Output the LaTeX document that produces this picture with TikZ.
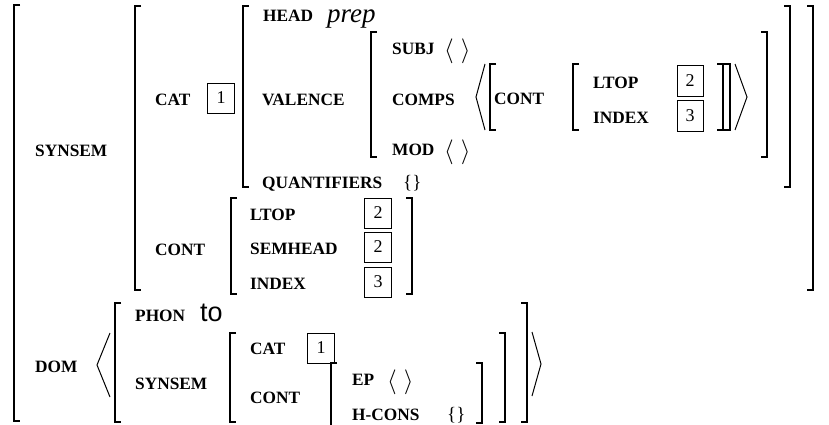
\documentclass[tikz,border=0pt]{standalone}
\usepackage{fontspec}
\setmainfont{Liberation Serif}
\newfontfamily\phonfont{Liberation Sans}

\newcommand{\avmL}[3]{\draw[brak] (#1+6,#2) -- (#1,#2) -- (#1,#3) -- (#1+6,#3);}
\newcommand{\avmR}[3]{\draw[brak] (#1-6,#2) -- (#1,#2) -- (#1,#3) -- (#1-6,#3);}
\newcommand{\avmLang}[4]{\draw[angl] (#2,#3) -- (#1,{(#3+#4)/2}) -- (#2,#4);}
\newcommand{\emptylist}{{\fontsize{24.88}{25}\selectfont$\langle\hspace{7pt}\rangle$}}

\tikzset{
  feat/.style={anchor=base west, inner sep=0pt, font=\fontsize{17.3}{18}\selectfont\bfseries},
  val/.style={anchor=base west, inner sep=0pt, font=\fontsize{19}{19}\selectfont},
  tag/.style={draw, line width=0.6pt, minimum width=27pt, minimum height=30pt, inner sep=0pt, font=\fontsize{18}{18}\selectfont},
  brak/.style={line width=1.4pt},
  angl/.style={line width=1pt}
}

\begin{document}
\begin{tikzpicture}[x=1pt, y=-1pt]
\useasboundingbox (0,0) rectangle (829,425);

\node[feat] (synsem) at (35,156) {SYNSEM};
\node[feat] (cat) at (155,106) {CAT};
\node[tag] (tagA) at (221,98) {1};
\node[feat] (head) at (263,22) {HEAD};
\node[val, font=\fontsize{27}{27}\selectfont\itshape] (prep) at (327,23) {prep};
\node[feat] (valence) at (262,106) {VALENCE};
\node[feat] (subj) at (392,55) {SUBJ};
\node[val] (subjval) at (444,58) {\emptylist};
\node[feat] (comps) at (392,106) {COMPS};
\node[feat] (compcont) at (494,105) {CONT};
\node[feat] (compltop) at (593,89) {LTOP};
\node[tag, minimum width=26pt, minimum height=31pt] (tagB) at (690,81) {2};
\node[feat] (compindex) at (593,124) {INDEX};
\node[tag, minimum width=26pt, minimum height=31pt] (tagC) at (690,116) {3};
\node[feat] (mod) at (392,155) {MOD};
\node[val] (modval) at (444,158) {\emptylist};
\node[feat] (quant) at (262,188) {QUANTIFIERS};
\node[val] (quantval) at (403,188) {\{\}};

\node[feat] (cont) at (155,255) {CONT};
\node[feat] (ltop) at (250,220) {LTOP};
\node[tag] (tagD) at (378,213) {2};
\node[feat] (semhead) at (250,254) {SEMHEAD};
\node[tag] (tagE) at (378,247) {2};
\node[feat] (index) at (250,289) {INDEX};
\node[tag] (tagF) at (378,282) {3};

\node[feat] (dom) at (35,372) {DOM};
\node[feat] (phon) at (135,321) {PHON};
\node[val, font=\fontsize{27}{27}\selectfont\phonfont] (to) at (200,321) {to};
\node[feat] (domsynsem) at (135,389) {SYNSEM};
\node[feat] (domcat) at (250,354) {CAT};
\node[tag] (tagG) at (321,348) {1};
\node[feat] (domcont) at (250,403) {CONT};
\node[feat] (ep) at (352,385) {EP};
\node[val] (epval) at (387,388) {\emptylist};
\node[feat] (hcons) at (352,420) {H-CONS};
\node[val] (hconsval) at (447,420) {\{\}};

\avmL{14}{5}{421}
\avmL{135}{6}{290} \avmR{813}{6}{290}
\avmL{243}{6}{187} \avmR{790}{6}{187}
\avmL{371}{32}{157} \avmR{767}{32}{157}
\avmLang{476}{485}{64}{130}
\avmL{490}{64}{130} \avmR{730}{64}{130}
\avmL{573}{64}{130} \avmR{723}{64}{130}
\draw[angl] (735,64) -- (747,97) -- (735,130);
\avmL{231}{198}{294} \avmR{412}{198}{294}
\avmLang{97}{110}{333}{397}
\avmL{115}{303}{422} \avmR{527}{303}{422}
\avmL{230}{333}{422} \avmR{505}{333}{422}
\draw[brak] (337,363) -- (331,363) -- (331,426);
\avmR{482}{363}{423}
\draw[angl] (532,332) -- (541,364) -- (532,396);
\end{tikzpicture}
\end{document}
